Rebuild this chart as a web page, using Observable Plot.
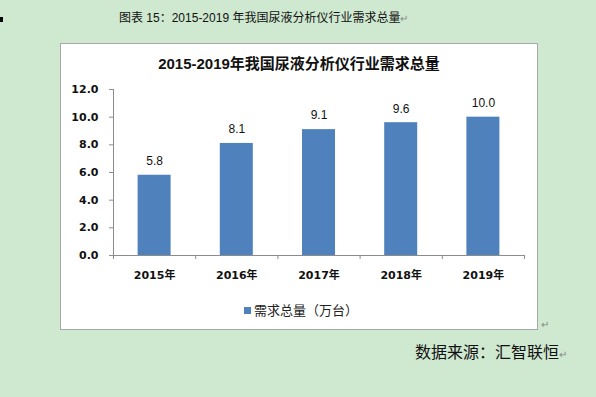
<!DOCTYPE html>
<html><head><meta charset="utf-8">
<script src="https://cdn.jsdelivr.net/npm/d3@7"></script>
<script src="https://cdn.jsdelivr.net/npm/@observablehq/plot@0.6"></script>
<style>
html,body{margin:0;padding:0;}
body{width:596px;height:397px;background:#cfe8d0;position:relative;overflow:hidden;font-family:"Liberation Sans","Noto Sans CJK SC",sans-serif;}
#mark{position:absolute;left:0;top:17px;width:3px;height:5px;background:#000;}
#outer-title{position:absolute;left:119px;top:10px;font-size:12px;line-height:16px;color:#111;white-space:nowrap;font-family:"Liberation Sans","Noto Sans CJK SC",sans-serif;}
.ret{color:#888;font-size:10px;}
#box{position:absolute;left:60px;top:43px;width:476px;height:285px;background:#fff;border:1px solid #a8a8a8;}
#chart-title{position:absolute;left:0;top:10px;width:476px;text-align:center;font-weight:bold;font-size:15px;line-height:20px;color:#111;}
#plot{position:absolute;left:0;top:36px;}
#legend{position:absolute;left:183px;top:258px;font-size:13px;line-height:18px;color:#222;white-space:nowrap;}
#legend .sw{display:inline-block;width:7px;height:7px;background:#4f81bd;margin-right:3px;vertical-align:1px;}
#ret2{position:absolute;left:541px;top:319px;}
#caption{position:absolute;left:415px;top:343px;font-size:16px;line-height:20px;color:#111;white-space:nowrap;}
</style></head>
<body>
<div id="mark"></div>
<div id="outer-title">图表 15：2015-2019 年我国尿液分析仪行业需求总量<span class="ret">↵</span></div>
<div id="box">
  <div id="chart-title">2015-2019年我国尿液分析仪行业需求总量</div>
  <div id="plot"></div>
  <div id="legend"><span class="sw"></span>需求总量（万台）</div>
</div>
<div id="ret2" class="ret">↵</div>
<div id="caption">数据来源：汇智联恒<span class="ret">↵</span></div>
<script>
const years = ["2015年","2016年","2017年","2018年","2019年"];
const demand = [5.8, 8.1, 9.1, 9.6, 10.0];
const yTicks = [0, 2, 4, 6, 8, 10, 12];

const data = years.map((y, i) => ({year: y, i, value: demand[i]}));
const bounds = d3.range(0, years.length + 1);
const centers = years.map((_, i) => i + 0.5);
const axisFont = '"DejaVu Sans","Noto Sans CJK SC",sans-serif';

const chart = Plot.plot({
  width: 476,
  height: 211,
  marginLeft: 52,
  marginRight: 13,
  marginTop: 9,
  marginBottom: 36,
  style: {fontFamily: '"Liberation Sans","Noto Sans CJK SC",sans-serif', fontSize: "12px", color: "#111", background: "transparent"},
  x: {type: "linear", domain: [0, years.length], axis: null},
  y: {domain: [0, 12], axis: null},
  marks: [
    Plot.rectY(data, {x1: "i", x2: d => d.i + 1, y: "value", fill: "#4f81bd", insetLeft: 24.6, insetRight: 24.6}),
    Plot.ruleY([0], {stroke: "#8c8c8c"}),
    Plot.ruleX([0], {stroke: "#8c8c8c"}),
    Plot.axisY({ticks: yTicks, tickFormat: d => d.toFixed(1), tickSize: 4, tickPadding: 11, stroke: "#8c8c8c", fontWeight: "bold", fontSize: 11, fontFamily: axisFont, label: null}),
    Plot.axisX({ticks: bounds, tickFormat: () => "", tickSize: 4, stroke: "#8c8c8c", label: null}),
    Plot.axisX({ticks: centers, tickFormat: d => years[Math.floor(d)], tickSize: 0, tickPadding: 16, fontWeight: "bold", fontSize: 11, fontFamily: axisFont, label: null}),
    Plot.text(data, {x: d => d.i + 0.5, y: "value", text: d => d.value.toFixed(1), dy: -14, fontSize: 12, fill: "#111"})
  ]
});
document.getElementById("plot").appendChild(chart);
</script>
</body></html>
